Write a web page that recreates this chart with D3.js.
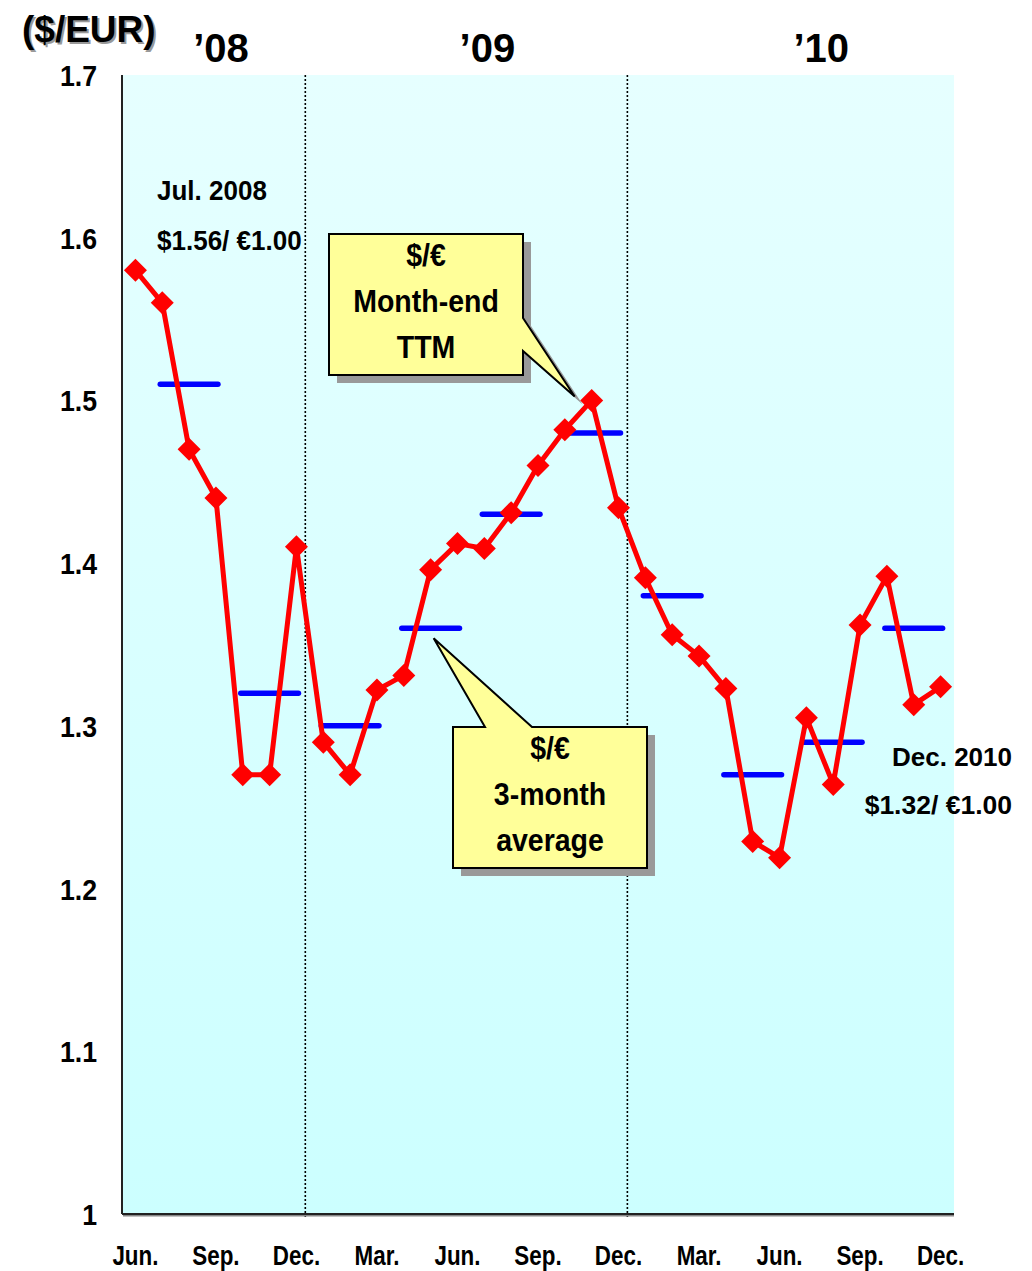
<!DOCTYPE html>
<html><head><meta charset="utf-8">
<script src="https://cdn.jsdelivr.net/npm/d3@7"></script>
<style>
html,body{margin:0;padding:0;background:#fff;}
svg{display:block;}
</style></head>
<body>
<div id="chart"></div>
<script>
// ---- data ----
const months = ["Jun 08","Jul 08","Aug 08","Sep 08","Oct 08","Nov 08","Dec 08",
  "Jan 09","Feb 09","Mar 09","Apr 09","May 09","Jun 09","Jul 09","Aug 09","Sep 09","Oct 09","Nov 09","Dec 09",
  "Jan 10","Feb 10","Mar 10","Apr 10","May 10","Jun 10","Jul 10","Aug 10","Sep 10","Oct 10","Nov 10","Dec 10"];
const monthEnd = [1.580,1.560,1.470,1.440,1.270,1.270,1.410,
  1.290,1.270,1.322,1.331,1.396,1.412,1.409,1.431,1.460,1.482,1.500,1.434,
  1.391,1.356,1.343,1.323,1.229,1.219,1.305,1.264,1.362,1.392,1.313,1.324];
const avgStart = ["Jul 08","Oct 08","Jan 09","Apr 09","Jul 09","Oct 09","Jan 10","Apr 10","Jul 10","Oct 10"];
const avgEnd   = ["Sep 08","Dec 08","Mar 09","Jun 09","Sep 09","Dec 09","Mar 10","Jun 10","Sep 10","Dec 10"];
const avgValues = [1.51,1.32,1.30,1.36,1.43,1.48,1.38,1.27,1.29,1.36];
const xTickMonths = ["Jun 08","Sep 08","Dec 08","Mar 09","Jun 09","Sep 09","Dec 09","Mar 10","Jun 10","Sep 10","Dec 10"];
const xTickLabels = ["Jun.","Sep.","Dec.","Mar.","Jun.","Sep.","Dec.","Mar.","Jun.","Sep.","Dec."];
const yTicks = [1,1.1,1.2,1.3,1.4,1.5,1.6,1.7];
const yearLabels = ["’08","’09","’10"];
const yearLabelMonths = ["Sep 08","Jul 09","Aug 10"];
const yearDividers = ["Dec 08","Dec 09"];

// ---- layout ----
const W = 1032, H = 1271;
const L = 122, R = 954, T = 75, B = 1214;
const SANS = "'Liberation Sans',Arial,sans-serif";

const svg = d3.select("#chart").append("svg").attr("width", W).attr("height", H);
const x = d3.scalePoint().domain(months).range([L, R]).padding(0.5);
const y = d3.scaleLinear().domain([1, 1.7]).range([B, T]);
const step = x.step();

// text helper with horizontal condensing
function txt(parent, px, py, str, size, anchor, sx, fill) {
  return parent.append("text")
    .attr("transform", `translate(${px},${py}) scale(${sx||1},1)`)
    .attr("text-anchor", anchor || "start")
    .attr("font-family", SANS).attr("font-weight", "bold")
    .attr("font-size", size).attr("fill", fill || "#000")
    .text(str);
}

const defs = svg.append("defs");
const grad = defs.append("linearGradient").attr("id","bg").attr("x1",0).attr("y1",0).attr("x2",0).attr("y2",1);
grad.append("stop").attr("offset","0%").attr("stop-color","#e6ffff");
grad.append("stop").attr("offset","100%").attr("stop-color","#ccffff");

svg.append("rect").attr("x",L).attr("y",T).attr("width",R-L).attr("height",B-T).attr("fill","url(#bg)");

// year dividers
svg.selectAll(".div").data(yearDividers).join("line")
  .attr("x1", d => x(d) + step*0.33).attr("x2", d => x(d) + step*0.33)
  .attr("y1", T).attr("y2", B+5)
  .attr("stroke","#000").attr("stroke-width",1.6).attr("stroke-dasharray","2,2");

// axes lines
svg.append("line").attr("x1",L+1).attr("x2",R).attr("y1",B+1.5).attr("y2",B+1.5).attr("stroke","#888").attr("stroke-width",2);
svg.append("line").attr("x1",L).attr("x2",R).attr("y1",B).attr("y2",B).attr("stroke","#222").attr("stroke-width",2);
svg.append("line").attr("x1",L).attr("x2",L).attr("y1",T).attr("y2",B).attr("stroke","#222").attr("stroke-width",2);

// y tick labels
yTicks.forEach(d => txt(svg, 97, y(d) + 11, d3.format("")(d), 30, "end", 0.89));

// x tick labels
xTickMonths.forEach((d,i) => txt(svg, x(d), 1265, xTickLabels[i], 28, "middle", 0.8));

// year labels
const yearOffsets = [5, 3, -12];
yearLabels.forEach((d,i) => txt(svg, x(yearLabelMonths[i]) + yearOffsets[i], 62, d, 40, "middle", 1));

// unit label with shadow
txt(svg, 24, 44, "($/EUR)", 37, "start", 1, "#999");
txt(svg, 22, 42, "($/EUR)", 37, "start", 1, "#000");

// 3-month averages
svg.selectAll(".avg").data(avgValues).join("line")
  .attr("x1",(d,i) => x(avgStart[i]) - 2).attr("x2",(d,i) => x(avgEnd[i]) + 2)
  .attr("y1", d => y(d)).attr("y2", d => y(d))
  .attr("stroke","#0000ff").attr("stroke-width",5.5).attr("stroke-linecap","round");

// red month-end line
const line = d3.line().x((d,i) => x(months[i])).y(d => y(d));
svg.append("path").datum(monthEnd).attr("d", line)
  .attr("fill","none").attr("stroke","#ff0000").attr("stroke-width",5).attr("stroke-linejoin","round");
const dm = 11.5;
svg.selectAll(".mk").data(monthEnd).join("path")
  .attr("transform",(d,i) => `translate(${x(months[i])},${y(d)})`)
  .attr("d", `M0,${-dm}L${dm},0L0,${dm}L${-dm},0Z`)
  .attr("fill","#ff0000");

// callouts
function callout(bx, by, bw, pathFn, lines) {
  const g = svg.append("g");
  g.append("path").attr("d", pathFn(8, 8)).attr("fill","#999999");
  g.append("path").attr("d", pathFn(0, 0)).attr("fill","#ffff99").attr("stroke","#000").attr("stroke-width",2).attr("stroke-linejoin","miter");
  lines.forEach((t,i) => txt(g, bx + bw/2, by + 32 + i*46, t, 31, "middle", 0.92));
}
// Month-end callout: tail on right side pointing to Nov 09 peak
{
  const bx = 329, by = 234, bw = 194, bh = 141;
  const tipX = x("Nov 09") - 17, tipY = y(1.500) - 4;
  callout(bx, by, bw, (dx, dy) => {
    const ox = bx + dx, oy = by + dy;
    return `M${ox},${oy}L${ox+bw},${oy}L${ox+bw},${oy+84}L${tipX+dx},${tipY+dy}L${ox+bw},${oy+117}L${ox+bw},${oy+bh}L${ox},${oy+bh}Z`;
  }, ["$/€","Month-end","TTM"]);
}
// 3-month average callout: tail on top pointing to Apr-Jun 09 average
{
  const bx = 453, by = 727, bw = 194, bh = 141;
  const tipX = x("May 09") + 3, tipY = y(1.36) + 10;
  callout(bx, by, bw, (dx, dy) => {
    const ox = bx + dx, oy = by + dy;
    return `M${ox},${oy}L${ox+32},${oy}L${tipX+dx},${tipY+dy}L${ox+79},${oy}L${ox+bw},${oy}L${ox+bw},${oy+bh}L${ox},${oy+bh}Z`;
  }, ["$/€","3-month","average"]);
}

// point annotations
txt(svg, 157, 200, "Jul. 2008", 28, "start", 0.93);
txt(svg, 157, 250, "$1.56/ €1.00", 28, "start", 0.93);
txt(svg, 1012, 766, "Dec. 2010", 26, "end", 1);
txt(svg, 1012, 814, "$1.32/ €1.00", 26.5, "end", 1);
</script>
</body></html>
